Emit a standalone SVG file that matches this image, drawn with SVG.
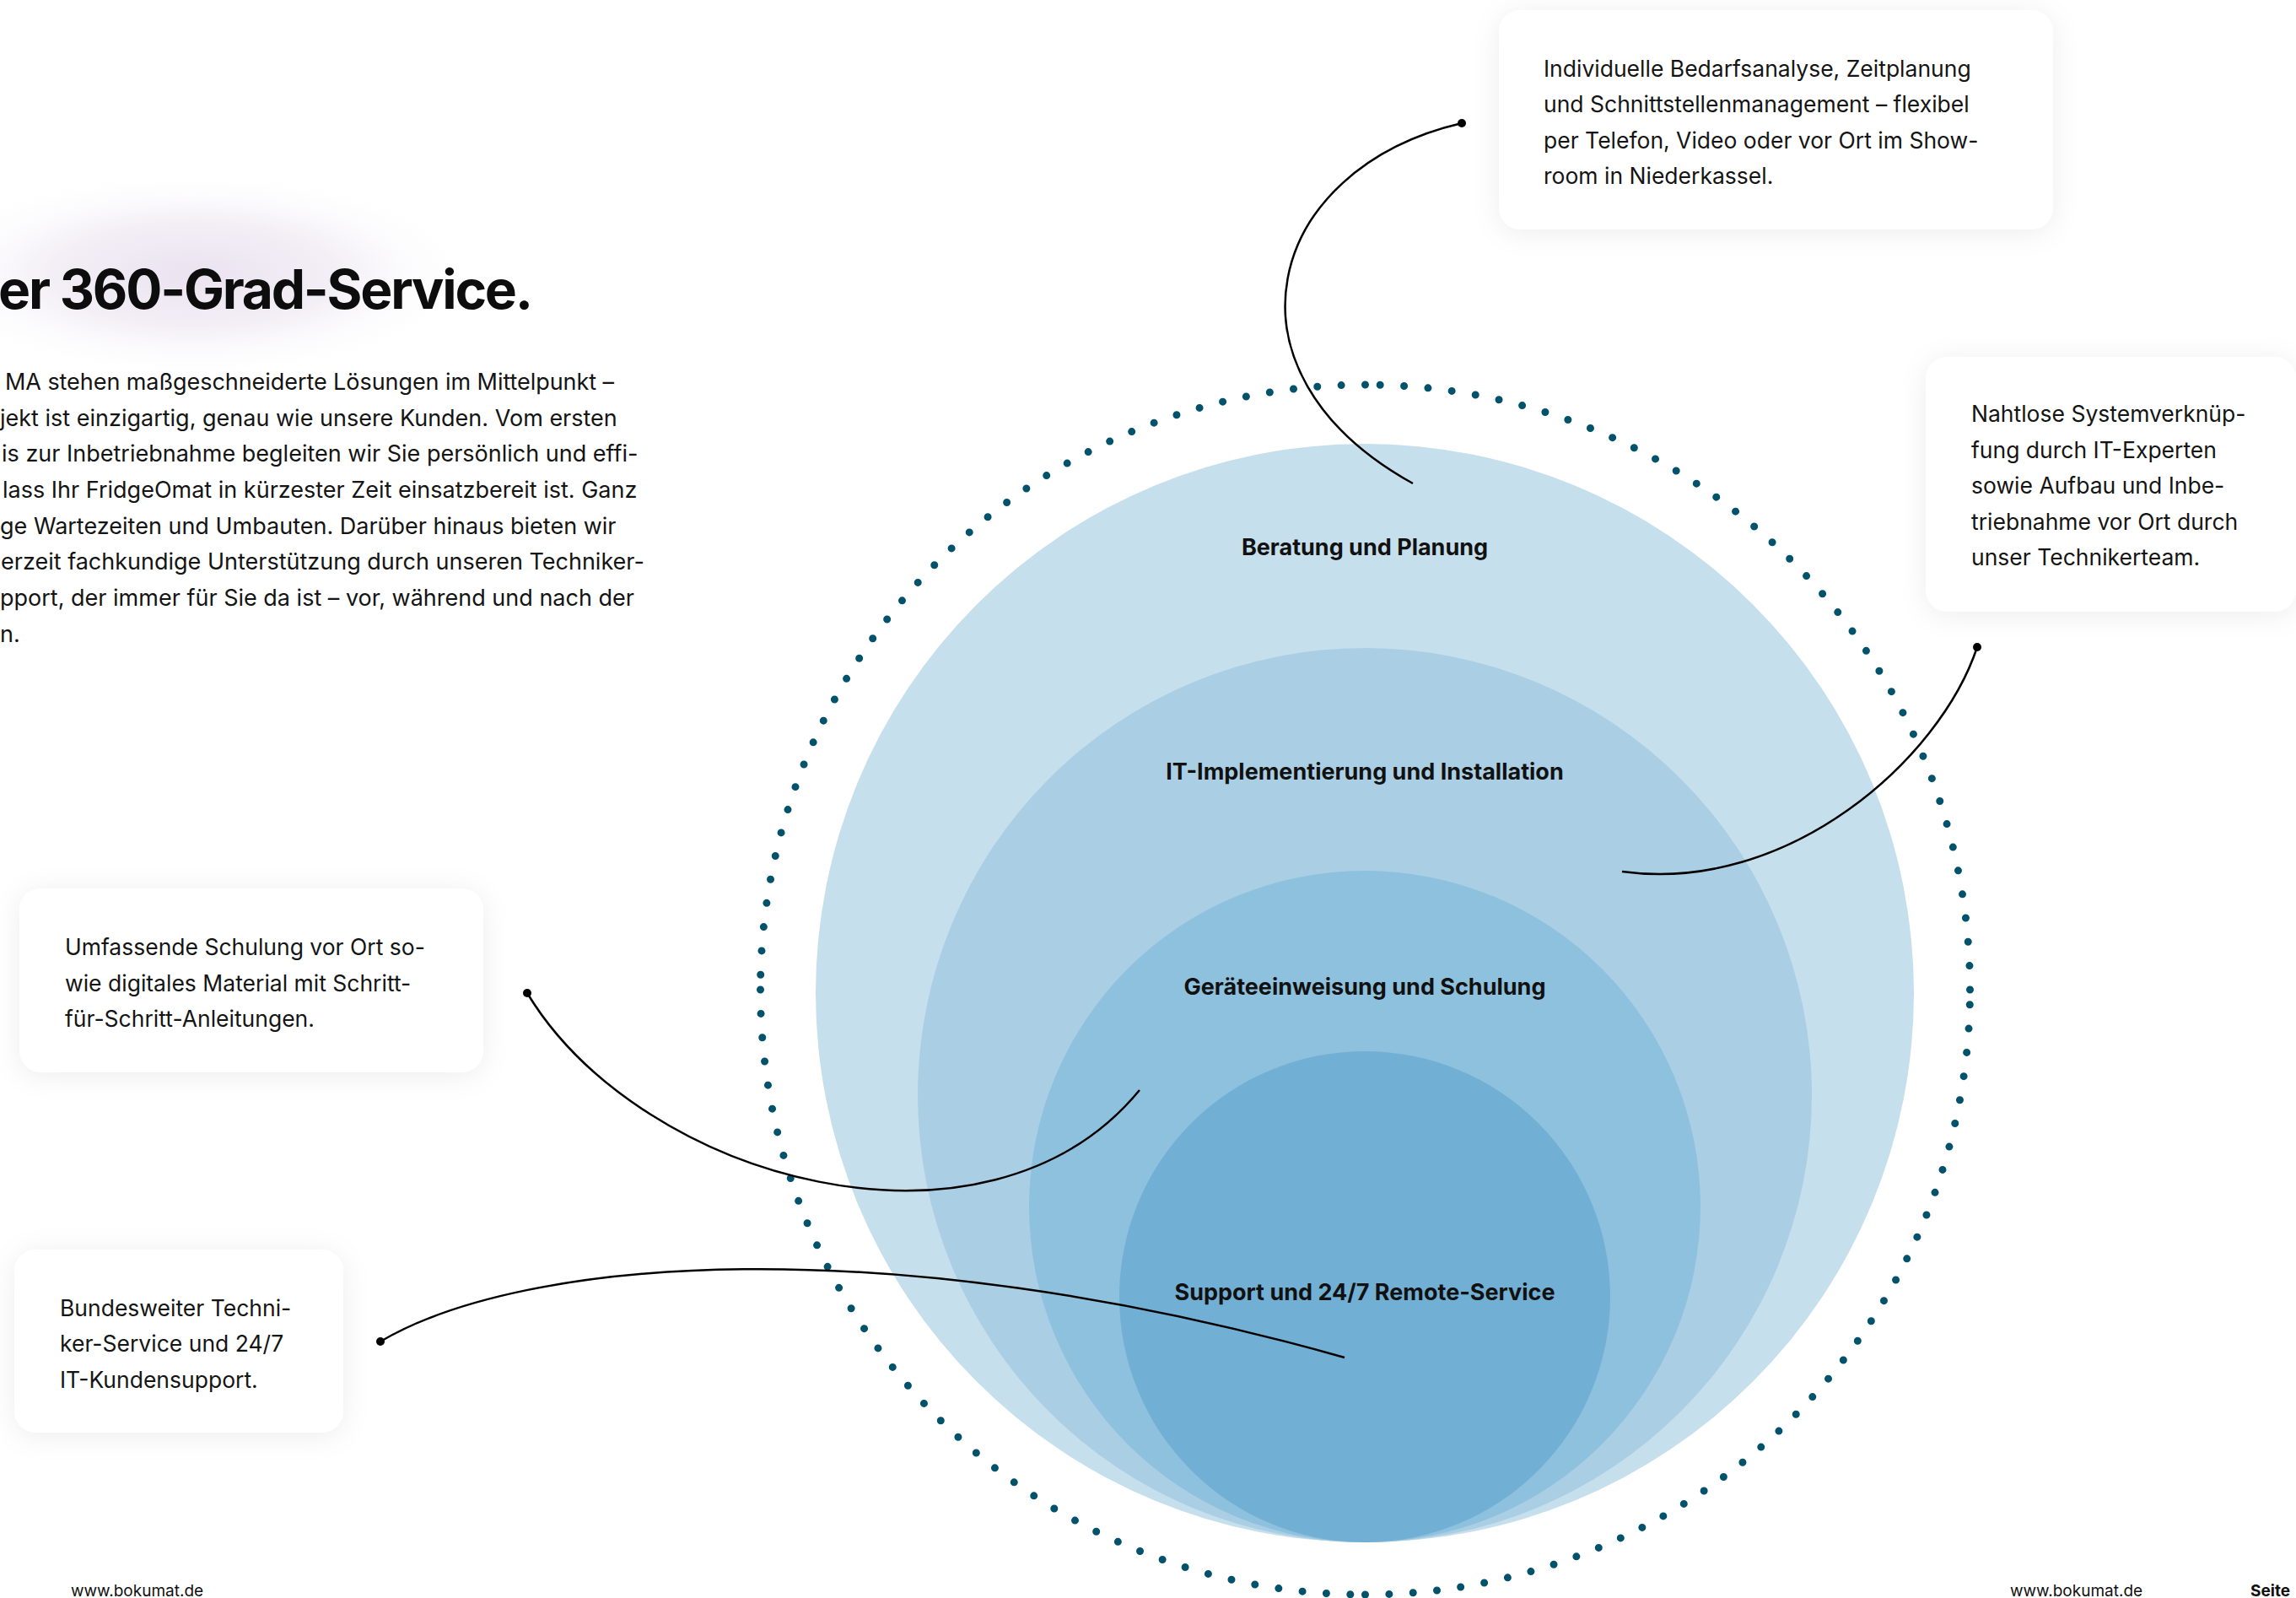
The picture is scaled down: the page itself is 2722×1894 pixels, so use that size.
<svg xmlns="http://www.w3.org/2000/svg" width="2722" height="1894" viewBox="0 0 2722 1894">
<defs>
<style>
.body{font-family:Inter,"Noto Sans","Liberation Sans",sans-serif;font-size:26.5px;fill:#141414}
.para{font-family:Inter,"Noto Sans","Liberation Sans",sans-serif;font-size:27px;fill:#141414}
.lbl{font-family:Inter,"Noto Sans","Liberation Sans",sans-serif;font-size:27px;font-weight:700;fill:#111;text-anchor:middle}
.title{font-family:Inter,"Noto Sans","Liberation Sans",sans-serif;font-size:64px;font-weight:700;fill:#0d0d0d;letter-spacing:-2.2px}
.foot{font-family:Inter,"Noto Sans","Liberation Sans",sans-serif;font-size:19px;fill:#111}
.box{fill:#fff;filter:url(#sh)}
.ring{fill:none;stroke:#02526b;stroke-width:9;stroke-linecap:round;stroke-dasharray:0 28.42}
.con{fill:none;stroke:#000;stroke-width:2.5}
.end{fill:#000}
</style>
<filter id="sh" x="-20%" y="-30%" width="140%" height="160%">
<feDropShadow dx="0" dy="4" stdDeviation="16" flood-color="#000" flood-opacity="0.07"/>
</filter>
<radialGradient id="glow" cx="0.5" cy="0.5" r="0.5">
<stop offset="0" stop-color="#ebe3f0"/>
<stop offset="0.5" stop-color="#f3eff6"/>
<stop offset="1" stop-color="#ffffff" stop-opacity="0"/>
</radialGradient>
</defs>
<rect width="2722" height="1894" fill="#fff"/>
<ellipse cx="230" cy="325" rx="340" ry="125" fill="url(#glow)"/>

<g id="heading">
<text class="title" x="-2" y="366">er 360-Grad-Service.</text>
<text class="para" x="6" y="462" textLength="722" lengthAdjust="spacing">MA stehen maßgeschneiderte Lösungen im Mittelpunkt –</text>
<text class="para" y="505"><tspan x="0">jekt ist einzigartig, genau wie unsere Kunden. Vom ersten</tspan><tspan x="2" y="547">is zur Inbetriebnahme begleiten wir Sie persönlich und effi-</tspan><tspan x="3" y="590">lass Ihr FridgeOmat in kürzester Zeit einsatzbereit ist. Ganz</tspan><tspan x="0" y="633">ge Wartezeiten und Umbauten. Darüber hinaus bieten wir</tspan><tspan x="1" y="675">erzeit fachkundige Unterstützung durch unseren Techniker-</tspan><tspan x="0" y="718">pport, der immer für Sie da ist – vor, während und nach der</tspan><tspan x="0" y="761">n.</tspan></text>
</g>

<g id="circles">
<circle cx="1618" cy="1177" r="651" fill="#c6dfec"/>
<circle cx="1618" cy="1298" r="530" fill="#aacfe4"/>
<circle cx="1618" cy="1430" r="398" fill="#8ec1dd"/>
<circle cx="1618" cy="1537" r="291" fill="#71b0d4"/>
</g>

<g id="ring">
<path class="ring" d="M2335.5 1173 A717 717 0 0 0 1618.5 456"/>
<path class="ring" d="M1618.5 456 A717 717 0 0 0 901.5 1173"/>
<path class="ring" d="M901.5 1173 A717 717 0 0 0 1618.5 1890"/>
<path class="ring" d="M1618.5 1890 A717 717 0 0 0 2335.5 1173"/>
</g>

<g id="connectors">
<path class="con" d="M1733 146 C1500 200 1435 440 1675 573"/>
<circle class="end" cx="1733" cy="146" r="5"/>
<path class="con" d="M2344 767 C2300 900 2120 1060 1923 1033"/>
<circle class="end" cx="2344" cy="767" r="5"/>
<path class="con" d="M625 1177 C760 1400 1170 1512 1351 1292"/>
<circle class="end" cx="625" cy="1177" r="5"/>
<path class="con" d="M451 1590 C620 1490 1050 1455 1594 1609"/>
<circle class="end" cx="451" cy="1590" r="5"/>
</g>

<g id="labels">
<text class="lbl" x="1618" y="658">Beratung und Planung</text>
<text class="lbl" x="1618" y="924">IT-Implementierung und Installation</text>
<text class="lbl" x="1618" y="1179">Geräteeinweisung und Schulung</text>
<text class="lbl" x="1618" y="1541">Support und 24/7 Remote-Service</text>
</g>

<g id="box-beratung">
<rect class="box" x="1777" y="12" width="657" height="260" rx="26"/>
<text class="body"><tspan x="1830" y="91">Individuelle Bedarfsanalyse, Zeitplanung</tspan><tspan x="1830" y="133">und Schnittstellenmanagement – flexibel</tspan><tspan x="1830" y="176">per Telefon, Video oder vor Ort im Show-</tspan><tspan x="1830" y="218">room in Niederkassel.</tspan></text>
</g>

<g id="box-it">
<rect class="box" x="2283" y="423" width="439" height="302" rx="26"/>
<text class="body"><tspan x="2337" y="500">Nahtlose Systemverknüp-</tspan><tspan x="2337" y="543">fung durch IT-Experten</tspan><tspan x="2337" y="585">sowie Aufbau und Inbe-</tspan><tspan x="2337" y="628">triebnahme vor Ort durch</tspan><tspan x="2337" y="670">unser Technikerteam.</tspan></text>
</g>

<g id="box-schulung">
<rect class="box" x="23" y="1053" width="550" height="218" rx="26"/>
<text class="body"><tspan x="77" y="1132">Umfassende Schulung vor Ort so-</tspan><tspan x="77" y="1175">wie digitales Material mit Schritt-</tspan><tspan x="77" y="1217">für-Schritt-Anleitungen.</tspan></text>
</g>

<g id="box-support">
<rect class="box" x="17" y="1481" width="390" height="217" rx="26"/>
<text class="body"><tspan x="71" y="1560">Bundesweiter Techni-</tspan><tspan x="71" y="1602">ker-Service und 24/7</tspan><tspan x="71" y="1645">IT-Kundensupport.</tspan></text>
</g>

<g id="footer">
<text class="foot" x="84" y="1892">www.bokumat.de</text>
<text class="foot" x="2383" y="1892">www.bokumat.de</text>
<text class="foot" x="2668" y="1892" font-weight="700">Seite</text>
</g>
</svg>
